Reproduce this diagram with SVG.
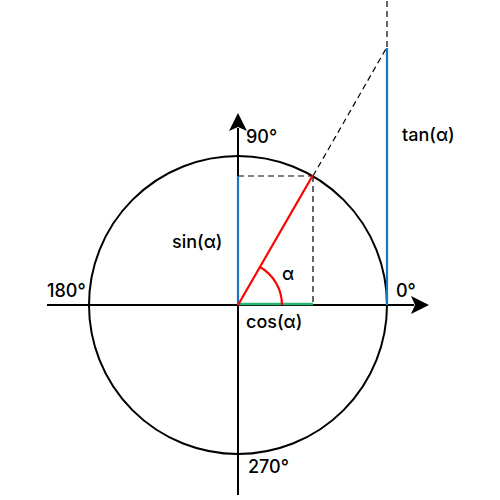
<svg xmlns="http://www.w3.org/2000/svg" width="500" height="500" viewBox="0 0 500 500">
<style>
text{font-family:Inter,"Open Sans","DejaVu Sans",sans-serif;font-size:18px;font-weight:500;fill:#000}
.dash{stroke:#000;stroke-width:1.2;stroke-dasharray:6,4;fill:none}
.axis{stroke:#000;stroke-width:2;fill:none}
</style>
<rect width="500" height="500" fill="#fff"/>
<g id="circle"><circle cx="238" cy="305" r="149" fill="none" stroke="#000" stroke-width="2"/></g>
<g id="connectors">
<line class="axis" x1="47" y1="305" x2="414" y2="305"/>
<polygon points="429,305 411,296 415,305 411,314" fill="#000"/>
<line class="axis" x1="238" y1="495" x2="238" y2="128"/>
<polygon points="238,113 229,131 238,127 247,131" fill="#000"/>
<line class="dash" x1="238" y1="176" x2="313" y2="176"/>
<line class="dash" x1="313" y1="176" x2="313" y2="305"/>
<line class="dash" x1="313" y1="176" x2="387" y2="47"/>
<line class="dash" x1="387" y1="47" x2="387" y2="0"/>
<line x1="238" y1="305" x2="238" y2="176" stroke="#1b75bc" stroke-width="2.2"/>
<line x1="387" y1="305" x2="387" y2="48" stroke="#1b75bc" stroke-width="2.2"/>
<line x1="238" y1="304" x2="313" y2="304" stroke="#2bb673" stroke-width="2.5"/>
<line x1="238" y1="305" x2="313" y2="175" stroke="#ff0000" stroke-width="2.2"/>
<path d="M282,305 A44,44 0 0 0 260,267" fill="none" stroke="#ff0000" stroke-width="2.2"/>
</g>
<g id="labels">
<text x="246" y="143">90°</text>
<text x="172" y="248">sin(α)</text>
<text x="282" y="280">α</text>
<text x="246" y="328">cos(α)</text>
<text x="402" y="141">tan(α)</text>
<text x="396" y="297">0°</text>
<text x="47" y="297">180°</text>
<text x="248" y="473">270°</text>
</g>
</svg>
